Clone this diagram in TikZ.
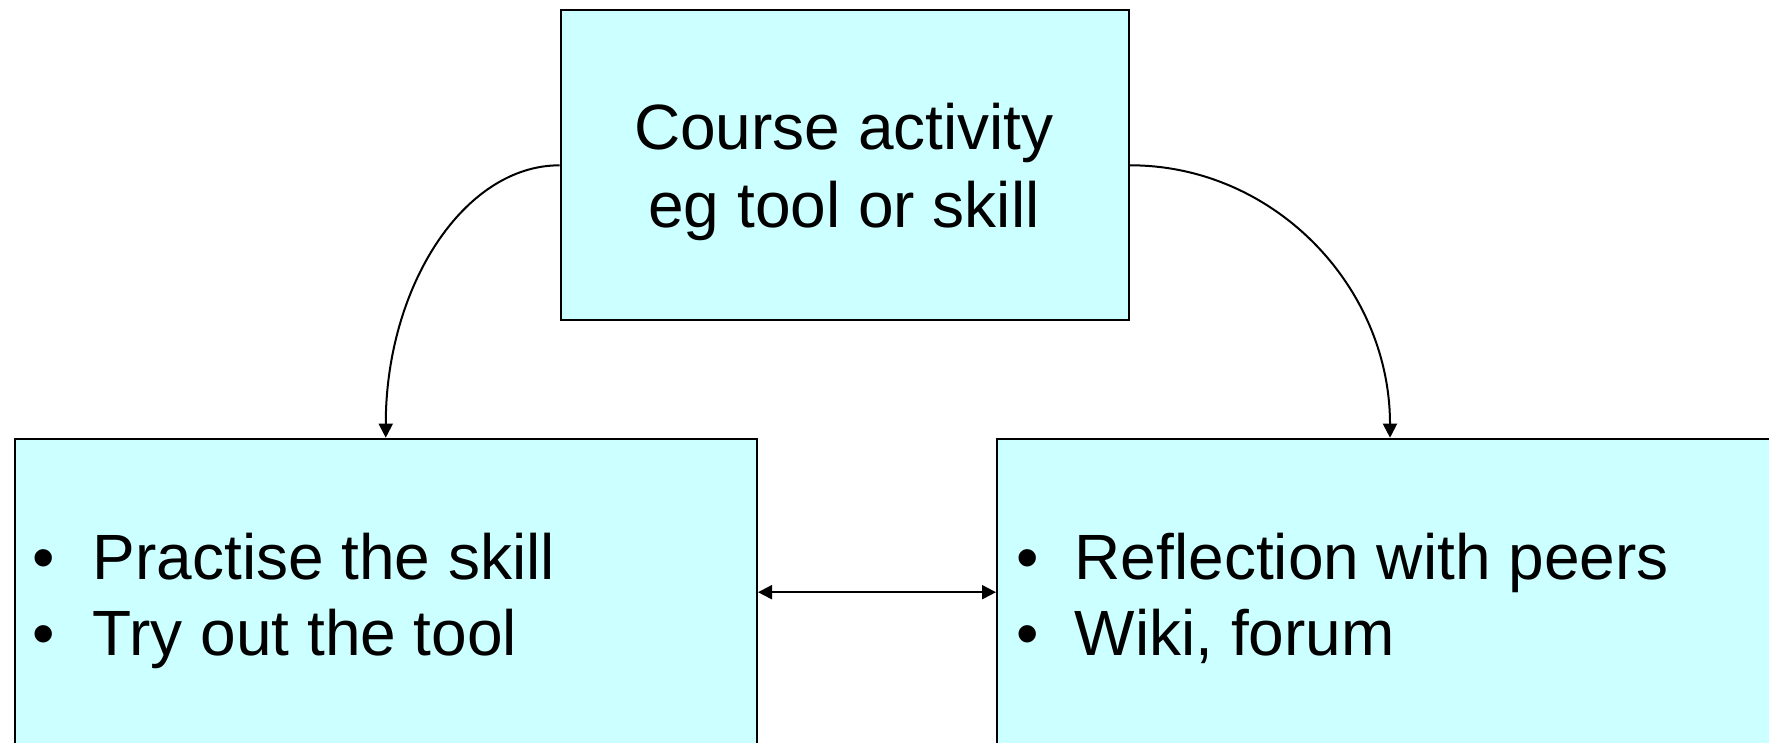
\documentclass[tikz,border=0pt]{standalone}
\usepackage{fontspec}
\setmainfont{Liberation Sans}
\usetikzlibrary{arrows.meta}
\definecolor{boxfill}{RGB}{204,255,255}
\tikzset{
  box/.style={draw=black, line width=2pt, fill=boxfill, rectangle,
    inner sep=0pt, anchor=north west},
  conn/.style={line width=2pt, -{Triangle[length=14pt,width=14pt]}},
  label/.style={inner sep=0pt, font=\fontsize{64}{77}\selectfont},
}
\begin{document}
\begin{tikzpicture}[x=1pt, y=-1pt]
  \useasboundingbox (0,0) rectangle (1769,742);
  \clip (0,0) rectangle (1769,742);

  % the three boxes
  \node[box, minimum width=568.6pt, minimum height=310pt] (top) at (559.6,9.3) {};
  \node[box, minimum width=742.5pt, minimum height=307pt] (left) at (13.5,437.7) {};
  \node[box, minimum width=786pt, minimum height=307pt] (right) at (996,437.7) {};

  % top box text
  \node[label, anchor=base] (t1) at (844,149) {Course activity};
  \node[label, anchor=base] (t2) at (844,227) {eg tool or skill};

  % left box bullets
  \node[label, anchor=base] (lb1) at (44,579) {•};
  \node[label, anchor=base west] (l1) at (92.5,579) {Practise the skill};
  \node[label, anchor=base] (lb2) at (44,655) {•};
  \node[label, anchor=base west] (l2) at (92.5,655) {Try out the tool};

  % right box bullets
  \node[label, anchor=base] (rb1) at (1028,579) {•};
  \node[label, anchor=base west] (r1) at (1074.5,579) {Reflection with peers};
  \node[label, anchor=base] (rb2) at (1028,655) {•};
  \node[label, anchor=base west] (r2) at (1074.5,655) {Wiki, forum};

  % connectors
  \draw[conn] (top.west) .. controls +(-96,0) and +(0,-151) .. (left.north);
  \draw[conn] (top.east) .. controls +(144,0) and +(0,-151) .. (right.north);
  \draw[line width=2pt, {Triangle[length=14pt,width=14pt]}-{Triangle[length=14pt,width=14pt]}]
    (left.east) -- (right.west);
\end{tikzpicture}
\end{document}
